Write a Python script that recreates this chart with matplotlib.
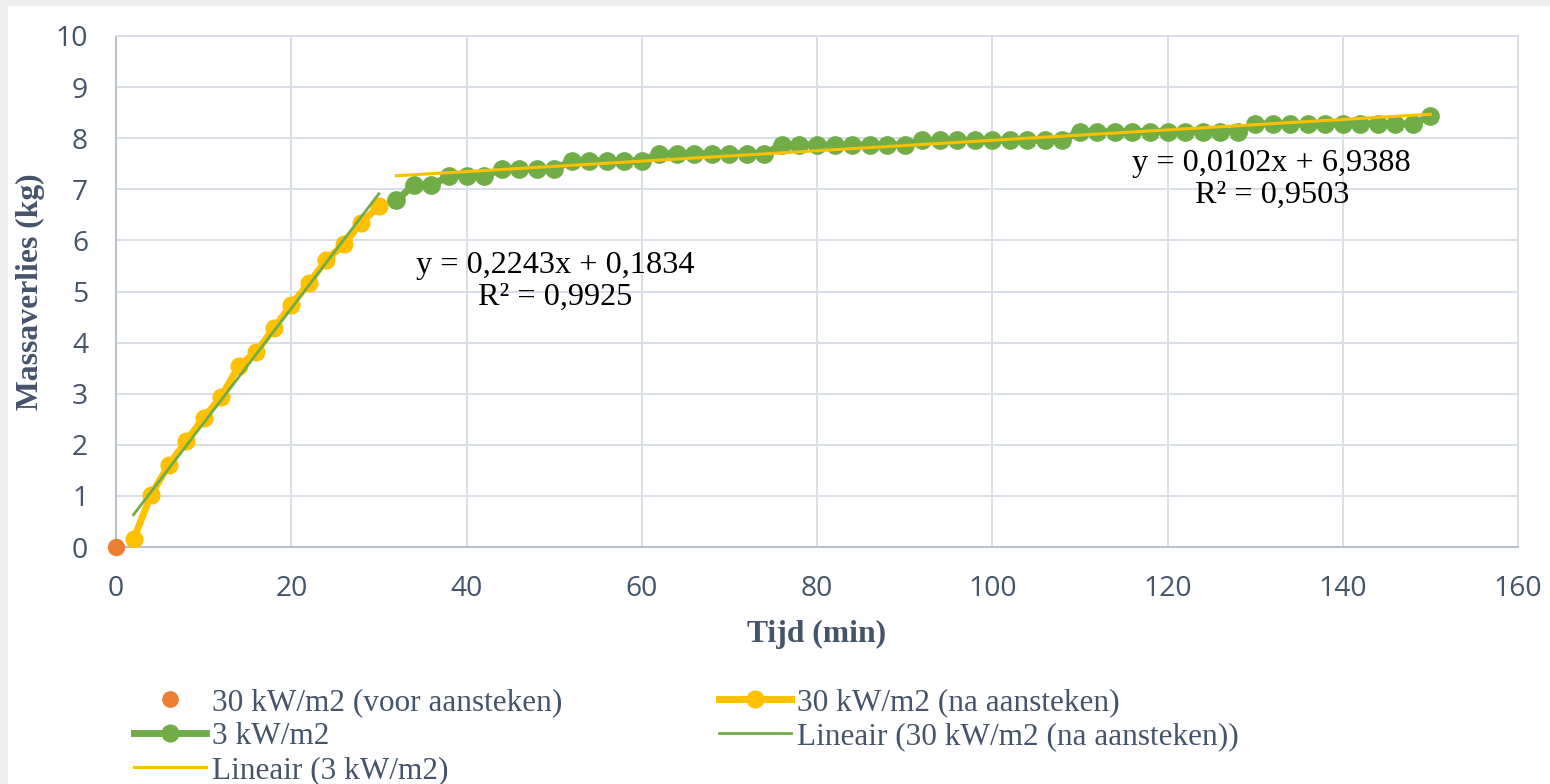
import numpy as np
import matplotlib.pyplot as plt
from matplotlib.lines import Line2D
from matplotlib.patches import Rectangle

# data
t_voor = [0]
m_voor = [0.0]

t_na = [2, 4, 6, 8, 10, 12, 14, 16, 18, 20, 22, 24, 26, 28, 30]
m_na = [0.15, 1.02, 1.60, 2.07, 2.53, 2.94, 3.54, 3.82, 4.28, 4.74,
        5.16, 5.62, 5.92, 6.35, 6.67]

t_3 = list(range(32, 151, 2))
m_3 = [6.79,
       7.08, 7.08,
       7.26, 7.26, 7.26,
       7.39, 7.39, 7.39, 7.39,
       7.56, 7.56, 7.56, 7.56, 7.56,
       7.70, 7.70, 7.70, 7.70, 7.70, 7.70, 7.70,
       7.87, 7.87, 7.87, 7.87, 7.87, 7.87, 7.87, 7.87,
       7.96, 7.96, 7.96, 7.96, 7.96, 7.96, 7.96, 7.96, 7.96,
       8.13, 8.13, 8.13, 8.13, 8.13, 8.13, 8.13, 8.13, 8.13, 8.13,
       8.28, 8.28, 8.28, 8.28, 8.28, 8.28, 8.28, 8.28, 8.28, 8.28,
       8.43]

# trendlines as given in the chart
fit_na = (0.2243, 0.1834)   # Lineair (30 kW/m2 (na aansteken))
fit_3 = (0.0102, 6.9388)    # Lineair (3 kW/m2)
eq_na = "y = 0,2243x + 0,1834\nR² = 0,9925"
eq_3 = "y = 0,0102x + 6,9388\nR² = 0,9503"

ORANGE = '#ed7d31'
GOLD = '#ffc000'
GREEN = '#70ad47'
TXT = '#44546a'
GRID = '#d9dee7'

fig = plt.figure(figsize=(15.5, 7.84), dpi=100, facecolor='#efeded')
fig.patches.append(Rectangle((8 / 1550, 0), 1, 1 - 6 / 784, transform=fig.transFigure,
                             facecolor='white', edgecolor='none', zorder=-10))

ax = fig.add_axes([116 / 1550, (784 - 547) / 784, (1518 - 116) / 1550, (547 - 36) / 784])
ax.set_facecolor('white')

ax.plot(t_voor, m_voor, 'o', color=ORANGE, ms=12.5, mec='none', zorder=3, clip_on=False)
ax.plot(t_na, m_na, '-o', color=GOLD, lw=5, ms=13, mec='none', zorder=3)
ax.plot(t_3, m_3, '-o', color=GREEN, lw=5, ms=13.5, mec='none', zorder=4)

x_na = np.array([t_na[0], t_na[-1]])
ax.plot(x_na, fit_na[0] * x_na + fit_na[1], color=GREEN, lw=2, zorder=5)
x_3 = np.array([t_3[0], t_3[-1]])
ax.plot(x_3, fit_3[0] * x_3 + fit_3[1], color=GOLD, lw=2.2, zorder=5)

ax.text(50.1, 5.2, eq_na, ha='center', va='center', fontsize=23.2,
        family='Liberation Serif', color='black', linespacing=1.1, zorder=6)
ax.text(131.9, 7.19, eq_3, ha='center', va='center', fontsize=23.2,
        family='Liberation Serif', color='black', linespacing=1.1, zorder=6)

ax.set_xlim(0, 160)
ax.set_ylim(0, 10)
ax.set_xticks(range(0, 161, 20))
ax.set_yticks(range(0, 11))
ax.grid(True, color=GRID, lw=1.4, zorder=0)
ax.set_axisbelow(True)
for s in ax.spines.values():
    s.set_color(GRID)
    s.set_linewidth(1.4)
ax.spines['left'].set_color('#b8c0cd')
ax.spines['bottom'].set_color('#b8c0cd')
ax.tick_params(length=0, colors=TXT, labelsize=20.3)
ax.tick_params(axis='y', pad=20)
ax.tick_params(axis='x', pad=20)
for lab in ax.get_xticklabels() + ax.get_yticklabels():
    lab.set_family('Open Sans')

ax.set_xlabel('Tijd (min)', family='Liberation Serif', weight='bold', fontsize=22.8,
              color=TXT, labelpad=12)
ax.set_ylabel('Massaverlies (kg)', family='Liberation Serif', weight='bold', fontsize=22.8,
              color=TXT, labelpad=8)

h_voor = Line2D([], [], ls='none', marker='o', color=ORANGE, ms=12, mec='none')
h_na = Line2D([], [], ls='-', lw=5, marker='o', color=GOLD, ms=13, mec='none')
h_3 = Line2D([], [], ls='-', lw=5, marker='o', color=GREEN, ms=13, mec='none')
h_fit_na = Line2D([], [], color=GREEN, lw=2)
h_fit_3 = Line2D([], [], color=GOLD, lw=2.2)

leg_kw = dict(loc='upper left', bbox_transform=fig.transFigure, frameon=False,
              borderpad=0, borderaxespad=0, handlelength=2.3, handletextpad=0.2,
              labelspacing=0.16, labelcolor=TXT,
              prop={'family': 'Liberation Serif', 'size': 22.5})
leg1 = fig.legend([h_voor, h_3, h_fit_3],
                  ['30 kW/m2 (voor aansteken)', '3 kW/m2', 'Lineair (3 kW/m2)'],
                  bbox_to_anchor=(134 / 1550, 1 - 688 / 784), **leg_kw)
leg2 = fig.legend([h_na, h_fit_na],
                  ['30 kW/m2 (na aansteken)', 'Lineair (30 kW/m2 (na aansteken))'],
                  bbox_to_anchor=(719 / 1550, 1 - 688 / 784), **leg_kw)

fig.savefig('out.png', dpi=100, facecolor=fig.get_facecolor())
